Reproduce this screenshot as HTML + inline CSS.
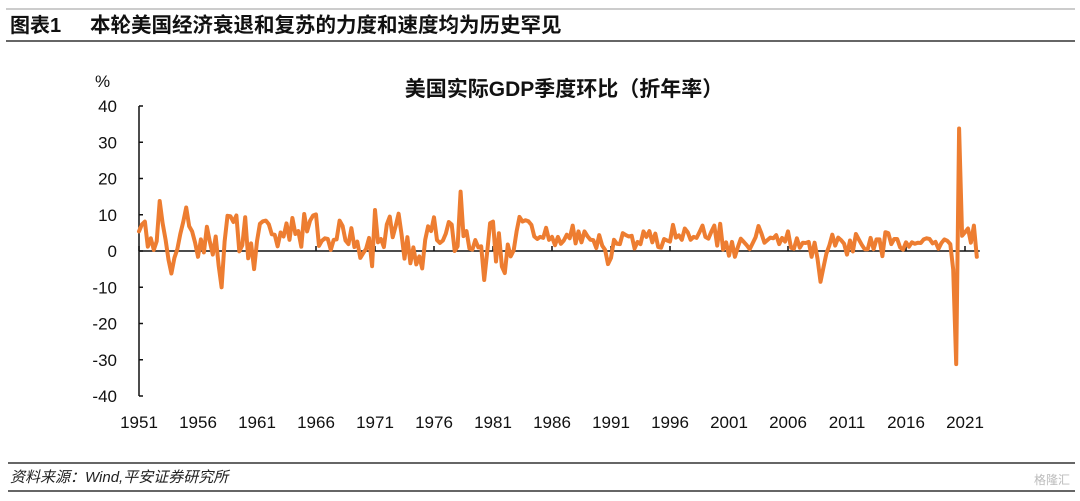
<!DOCTYPE html>
<html><head><meta charset="utf-8"><style>
body{margin:0;background:#fff;width:1080px;height:496px;overflow:hidden;font-family:"Liberation Sans","Noto Sans CJK SC",sans-serif;}
</style></head><body>
<svg width="1080" height="496" viewBox="0 0 1080 496" xmlns="http://www.w3.org/2000/svg">
<line x1="6" y1="9" x2="1075" y2="9" stroke="#999" stroke-width="1"/>
<line x1="6" y1="41" x2="1075" y2="41" stroke="#666" stroke-width="2"/>
<text x="10" y="32" font-size="20" font-weight="bold" fill="#111">图表1</text>
<text x="90" y="32" font-size="20.5" font-weight="bold" fill="#111">本轮美国经济衰退和复苏的力度和速度均为历史罕见</text>
<text x="564" y="96" font-size="21" font-weight="bold" text-anchor="middle" fill="#111">美国实际GDP季度环比（折年率）</text>
<text x="95" y="87" font-size="17" fill="#111">%</text>
<g id="axes"></g>
<g id="series"></g>
<line x1="8" y1="463" x2="1075" y2="463" stroke="#666" stroke-width="2"/>
<line x1="8" y1="491" x2="1075" y2="491" stroke="#666" stroke-width="2"/>
<text x="10" y="482" font-size="15" font-style="italic" fill="#222">资料来源：Wind,平安证券研究所</text>
<text x="1070" y="484" font-size="12" text-anchor="end" fill="#bbb">格隆汇</text>
</svg>
<script>
const startYear = 1951;
const yTicks = [40,30,20,10,0,-10,-20,-30,-40];
const xTickLabels = [1951,1956,1961,1966,1971,1976,1981,1986,1991,1996,2001,2006,2011,2016,2021];
const gdpGrowth = [
5.4,7.3,8.1,1.2, 3.5,0.3,2.7,13.8, 7.7,3.1,-2.4,-6.2, -1.9,0.5,4.7,8.1, 12.0,6.8,5.4,2.3,
-1.6,3.2,-0.4,6.7, 2.6,-1.0,4.0,-4.1, -10.0,2.6,9.7,9.6, 8.0,9.8,-0.1,1.6, 9.3,-2.0,2.1,-5.0,
2.7,7.5,8.2,8.4, 7.4,4.6,4.5,1.3, 5.1,4.0,7.6,3.1, 9.1,4.7,5.5,1.2, 10.2,5.4,8.4,9.8,
10.1,1.4,2.8,3.5, 3.3,0.3,3.1,3.2, 8.4,6.9,2.9,1.9, 6.3,1.1,2.6,-1.9, -0.6,0.6,3.6,-4.2,
11.3,2.4,3.3,1.1, 7.3,9.5,3.8,6.9, 10.3,4.5,-2.1,3.8, -3.4,1.0,-3.7,-1.5, -4.8,3.1,6.8,5.5,
9.3,3.0,2.2,2.9, 4.8,8.0,7.3,0.0, 1.3,16.4,4.1,5.5, 0.7,0.4,3.0,1.0, 1.3,-8.0,-0.5,7.7,
8.1,-2.9,4.9,-4.3, -6.1,1.8,-1.5,0.2, 5.4,9.4,8.1,8.5, 8.2,7.2,4.0,3.3, 3.9,3.6,6.4,3.1,
3.9,1.6,3.9,2.0, 2.9,4.5,3.5,7.0, 2.1,5.4,2.4,5.4, 4.1,3.1,3.0,0.8, 4.4,1.5,0.3,-3.6,
-1.9,3.1,2.0,1.9, 4.9,4.4,4.0,4.2, 0.7,2.5,1.9,5.4, 3.9,5.5,2.4,4.8, 1.1,0.9,3.3,2.9,
2.6,7.2,3.7,4.3, 3.1,6.2,5.2,3.1, 3.9,3.6,5.2,7.0, 3.9,3.4,5.3,7.0, 1.5,7.5,0.4,2.4,
-1.3,2.5,-1.6,1.1, 3.4,2.5,1.6,0.5, 2.1,3.8,6.9,4.8, 2.3,3.0,3.7,3.5, 4.4,1.9,3.6,2.6,
5.4,0.9,0.6,3.5, 0.9,2.3,2.2,2.5, -1.6,2.3,-2.1,-8.5, -4.6,-0.7,1.5,4.5, 1.5,3.7,3.0,2.0,
-1.0,2.9,-0.1,4.7, 3.2,1.7,0.5,0.5, 3.6,0.5,3.2,3.2, -1.4,5.2,4.9,1.9, 3.3,3.3,1.0,0.4,
2.4,1.2,2.4,2.0, 2.3,2.2,3.2,3.5, 3.3,2.1,2.5,0.6, 2.2,3.2,2.8,1.9, -5.1,-31.2,33.8,4.2,
5.2,6.2,2.3,7.0, -1.6
];
const NS="http://www.w3.org/2000/svg";
const x0=139, pxPerYear=11.8;
function xScale(t){return x0+(t-startYear)*pxPerYear;}
function yScale(v){return 251-v*3.625;}
function mk(tag,attrs,parent){const e=document.createElementNS(NS,tag);for(const k in attrs)e.setAttribute(k,attrs[k]);parent.appendChild(e);return e;}
const ax=document.getElementById('axes');
const ya=mk('line',{x1:x0,y1:yScale(40),x2:x0,y2:yScale(-40),stroke:'#111','stroke-width':1.5},ax);


yTicks.forEach(v=>{
  const t=mk('line',{x1:x0,y1:yScale(v),x2:x0+4,y2:yScale(v),stroke:'#111','stroke-width':1.5},ax);
  
  
  const l=mk('text',{x:117,y:yScale(v)+6,'font-size':17,'text-anchor':'end',fill:'#111'},ax);
  l.textContent=v;
  
  
});
const xa=mk('line',{x1:x0,y1:yScale(0),x2:xScale(startYear+gdpGrowth.length/4),y2:yScale(0),stroke:'#111','stroke-width':1.5},ax);


xTickLabels.forEach(yr=>{
  const t=mk('line',{x1:xScale(yr),y1:yScale(0),x2:xScale(yr),y2:yScale(0)-5,stroke:'#111','stroke-width':1.5},ax);
  
  
  const l=mk('text',{x:xScale(yr),y:428,'font-size':17,'text-anchor':'middle',fill:'#111'},ax);
  l.textContent=yr;
  
  
});
const pts=gdpGrowth.map((v,i)=>xScale(startYear+i/4).toFixed(1)+','+yScale(v).toFixed(1)).join(' ');
const pl=mk('polyline',{points:pts,fill:'none',stroke:'#ED7D31','stroke-width':4,'stroke-linejoin':'round','stroke-linecap':'round'},document.getElementById('series'));


</script>
</body></html>
